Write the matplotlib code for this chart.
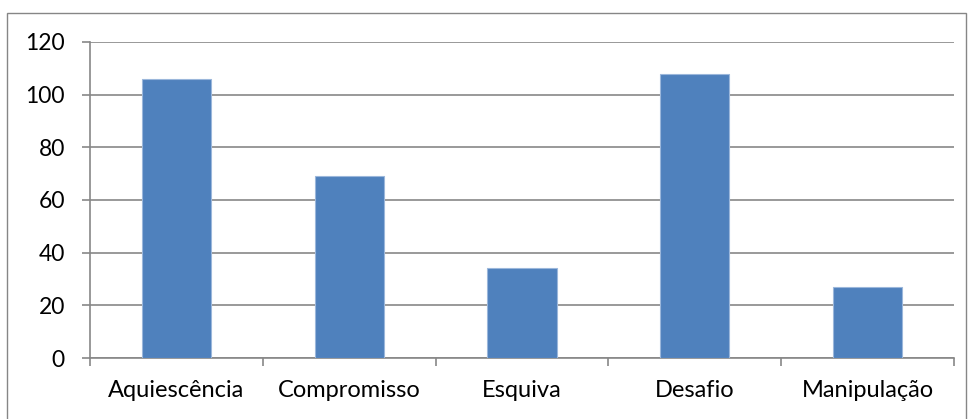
import matplotlib
matplotlib.use("Agg")
import matplotlib.pyplot as plt
from matplotlib.patches import Rectangle

categories = ["Aquiescência", "Compromisso", "Esquiva", "Desafio", "Manipulação"]
values = [106, 69, 34, 108, 27]
yticks = [0, 20, 40, 60, 80, 100, 120]

W, H = 968, 419
fig = plt.figure(figsize=(W / 100, H / 100), dpi=100)
plt.rcParams['font.family'] = ['Lato', 'DejaVu Sans']

left, right, top, bottom = 90, 954, 42, 358
ax = fig.add_axes([left / W, 1 - bottom / H, (right - left) / W, (bottom - top) / H])

grid_c = "#878787"
fs = 17
x = list(range(len(categories)))
ax.bar(x, values, width=0.4, color="#4F81BD", edgecolor="#9BB7DB", linewidth=0.8, zorder=3)
ax.set_xlim(-0.5, len(categories) - 0.5)
ax.set_ylim(0, 120)
ax.set_yticks(yticks)
ax.set_yticklabels([str(v) for v in yticks], fontsize=16.5)
ax.yaxis.grid(True, color=grid_c, linewidth=1.2, zorder=0)
ax.set_xticks([i - 0.5 for i in range(len(categories) + 1)])
ax.set_xticklabels([])
ax.set_xticks(x, minor=True)
ax.set_xticklabels(categories, minor=True, fontsize=fs)
ax.tick_params(axis='x', which='minor', length=0, pad=16)
ax.tick_params(axis='x', which='major', length=6, color=grid_c, width=1.2, direction='out')
ax.tick_params(axis='y', length=6, color=grid_c, width=1.2, direction='out', pad=12)
for s in ['top', 'right']:
    ax.spines[s].set_visible(False)
for s in ['left', 'bottom']:
    ax.spines[s].set_color(grid_c)
    ax.spines[s].set_linewidth(1.2)

border = Rectangle((7 / W, -0.1), (966 - 7) / W, 1 - 13 / H + 0.1, transform=fig.transFigure,
                   fill=False, edgecolor="#868686", linewidth=1.0, clip_on=False)
fig.patches.append(border)

fig.savefig("out.png", dpi=100)
